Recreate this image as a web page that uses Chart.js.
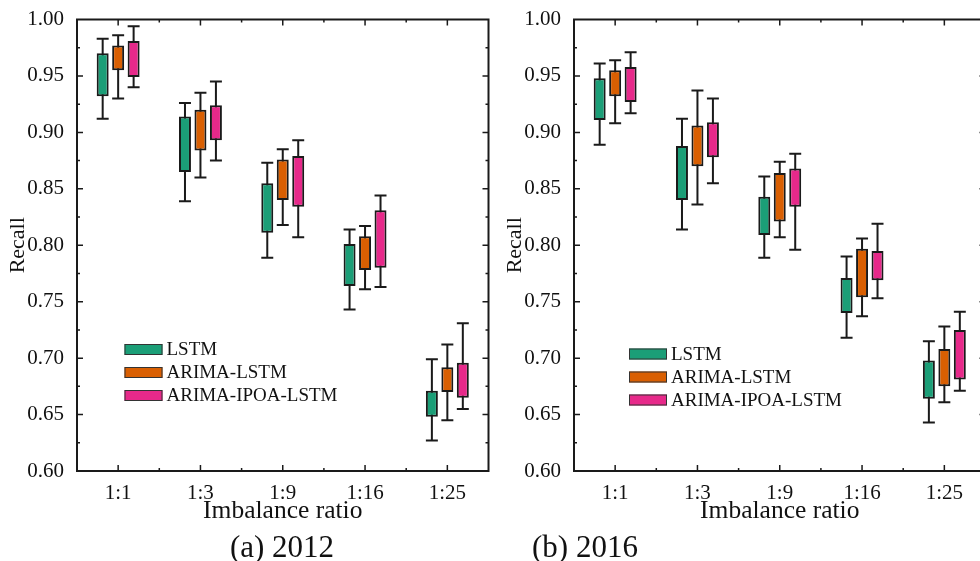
<!DOCTYPE html>
<html>
<head>
<meta charset="utf-8">
<script src="https://cdn.jsdelivr.net/npm/chart.js@4.4.1/dist/chart.umd.min.js"></script>
<style>
  html, body { margin: 0; padding: 0; overflow: hidden; background: #fff; }
  body { width: 980px; height: 561px; position: relative; }
  .panel { position: absolute; top: 0; width: 500px; height: 561px; }
  .cap {
    position: absolute; font-family: "Liberation Serif", "Times New Roman", serif;
    font-size: 31px; color: #111; transform: translate(-50%, -50%); white-space: nowrap;
  }
</style>
</head>
<body>
<div class="panel" style="left:0"><canvas id="c2012" width="500" height="561"></canvas></div>
<div class="panel" style="left:497px"><canvas id="c2016" width="500" height="561"></canvas></div>
<div class="cap" style="left:282px;top:547px">(a) 2012</div>
<div class="cap" style="left:585px;top:547px">(b) 2016</div>
<script>
// categorie e modelli
const ratios = ["1:1", "1:3", "1:9", "1:16", "1:25"];
const models = ["LSTM", "ARIMA-LSTM", "ARIMA-IPOA-LSTM"];
const colors = ["#1b9e77", "#d95f02", "#e7298a"];

// ogni voce: [baffo basso, Q1, Q3, baffo alto]
const lstm2012 = [[0.912, 0.932, 0.970, 0.983], [0.839, 0.865, 0.914, 0.926], [0.789, 0.811, 0.855, 0.873], [0.743, 0.764, 0.801, 0.814], [0.627, 0.648, 0.671, 0.699]];
const arima2012 = [[0.930, 0.955, 0.977, 0.986], [0.860, 0.884, 0.920, 0.935], [0.818, 0.840, 0.876, 0.885], [0.761, 0.778, 0.808, 0.817], [0.645, 0.670, 0.692, 0.712]];
const ipoa2012 = [[0.940, 0.949, 0.981, 0.994], [0.875, 0.893, 0.924, 0.945], [0.807, 0.834, 0.879, 0.893], [0.763, 0.780, 0.831, 0.844], [0.655, 0.665, 0.696, 0.731]];

const lstm2016 = [[0.889, 0.911, 0.948, 0.961], [0.814, 0.840, 0.888, 0.912], [0.789, 0.809, 0.843, 0.861], [0.718, 0.740, 0.771, 0.790], [0.643, 0.664, 0.698, 0.715]];
const arima2016 = [[0.908, 0.932, 0.955, 0.964], [0.836, 0.870, 0.906, 0.937], [0.807, 0.821, 0.864, 0.874], [0.737, 0.754, 0.797, 0.806], [0.661, 0.675, 0.708, 0.728]];
const ipoa2016 = [[0.917, 0.927, 0.958, 0.971], [0.855, 0.878, 0.909, 0.930], [0.796, 0.834, 0.868, 0.881], [0.753, 0.769, 0.795, 0.819], [0.671, 0.681, 0.725, 0.741]];

const yMin = 0.6;
const yMax = 1.0;
const yStep = 0.05;

const serif = '"Liberation Serif", "Times New Roman", serif';
const ink = "#1a1a1a";

// Baffi dietro le scatole
const whiskers = {
  id: "whiskers",
  beforeDatasetsDraw(chart) {
    const ctx = chart.ctx;
    const y = chart.scales.y;
    ctx.save();
    ctx.strokeStyle = ink;
    ctx.lineWidth = 2;
    chart.data.datasets.forEach((ds, i) => {
      chart.getDatasetMeta(i).data.forEach((bar, j) => {
        const w = ds.whiskers[j];
        const half = bar.width / 2;
        const lo = y.getPixelForValue(w[0]);
        const hi = y.getPixelForValue(w[3]);
        ctx.beginPath();
        ctx.moveTo(bar.x, lo);
        ctx.lineTo(bar.x, hi);
        ctx.moveTo(bar.x - half, lo);
        ctx.lineTo(bar.x + half, lo);
        ctx.moveTo(bar.x - half, hi);
        ctx.lineTo(bar.x + half, hi);
        ctx.stroke();
      });
    });
    ctx.restore();
  },
};

// Cornice con tacche verso l'interno
const frame = {
  id: "frame",
  afterDraw(chart) {
    const ctx = chart.ctx;
    const { left, right, top, bottom } = chart.chartArea;
    const x = chart.scales.x;
    const y = chart.scales.y;
    ctx.save();
    ctx.strokeStyle = ink;
    ctx.lineWidth = 2;
    ctx.strokeRect(left, top, right - left, bottom - top);
    ctx.lineWidth = 1.5;
    ctx.beginPath();
    const n = Math.round((yMax - yMin) / (yStep / 2));
    for (let k = 1; k < n; k++) {
      const py = y.getPixelForValue(yMin + k * yStep / 2);
      const len = k % 2 === 0 ? 6 : 3;
      ctx.moveTo(left, py); ctx.lineTo(left + len, py);
      ctx.moveTo(right, py); ctx.lineTo(right - len, py);
    }
    for (let i = 0; i < ratios.length; i++) {
      const px = x.getPixelForValue(i);
      ctx.moveTo(px, bottom); ctx.lineTo(px, bottom - 6);
      ctx.moveTo(px, top); ctx.lineTo(px, top + 6);
      if (i < ratios.length - 1) {
        const mx = (px + x.getPixelForValue(i + 1)) / 2;
        ctx.moveTo(mx, bottom); ctx.lineTo(mx, bottom - 3);
        ctx.moveTo(mx, top); ctx.lineTo(mx, top + 3);
      }
    }
    ctx.stroke();
    ctx.restore();
  },
};

// Legenda dentro il grafico
const insideLegend = {
  id: "insideLegend",
  afterDraw(chart, args, opts) {
    const ctx = chart.ctx;
    const x0 = chart.chartArea.left + opts.dx;
    ctx.save();
    ctx.font = "19px " + serif;
    ctx.textBaseline = "middle";
    chart.data.datasets.forEach((ds, i) => {
      const cy = opts.y + i * 23;
      ctx.fillStyle = ds.backgroundColor;
      ctx.fillRect(x0, cy - 5.5, 38, 11);
      ctx.strokeStyle = "#333";
      ctx.lineWidth = 1;
      ctx.strokeRect(x0 + 0.5, cy - 5, 37, 10);
      ctx.fillStyle = "#111";
      ctx.fillText(ds.label, x0 + 42, cy + 1);
    });
    ctx.restore();
  },
};

const boxChart = function (id, sets, legendDx, legendY) {
  const ctx = document.getElementById(id).getContext("2d");

  const datasets = sets.map((s, i) => ({
    label: models[i],
    data: s.map((d) => [d[1], d[2]]),
    whiskers: s,
    backgroundColor: colors[i],
    borderColor: ink,
    borderWidth: 2,
    borderSkipped: false,
    categoryPercentage: 0.564,
    barPercentage: 0.774,
  }));

  return new Chart(ctx, {
    type: "bar",
    data: { labels: ratios, datasets: datasets },
    options: {
      responsive: false,
      animation: false,
      events: [],
      layout: { padding: { top: 19.5, right: 11.5, left: 0, bottom: 0 } },
      plugins: {
        legend: { display: false },
        tooltip: { enabled: false },
        insideLegend: { dx: legendDx, y: legendY },
      },
      scales: {
        x: {
          grid: { display: false },
          border: { display: false },
          ticks: { color: "#111", padding: 2, font: { family: serif, size: 21 } },
          title: {
            display: true,
            text: "Imbalance ratio",
            color: "#111",
            font: { family: serif, size: 25.5 },
            padding: { top: 0, bottom: 34 },
          },
          afterFit(scale) { scale.height = 90; },
        },
        y: {
          min: yMin,
          max: yMax,
          grid: { display: false },
          border: { display: false },
          ticks: {
            stepSize: yStep,
            color: "#111",
            padding: 5,
            font: { family: serif, size: 21 },
            callback: (v) => Number(v).toFixed(2),
          },
          title: {
            display: true,
            text: "Recall",
            color: "#111",
            font: { family: serif, size: 22 },
            padding: { top: 5.5, bottom: 0 },
          },
          afterFit(scale) { scale.width = 77; },
        },
      },
    },
    plugins: [whiskers, frame, insideLegend],
  });
};

boxChart("c2012", [lstm2012, arima2012, ipoa2012], 47.5, 349.5);
boxChart("c2016", [lstm2016, arima2016, ipoa2016], 55, 354);
</script>
</body>
</html>
